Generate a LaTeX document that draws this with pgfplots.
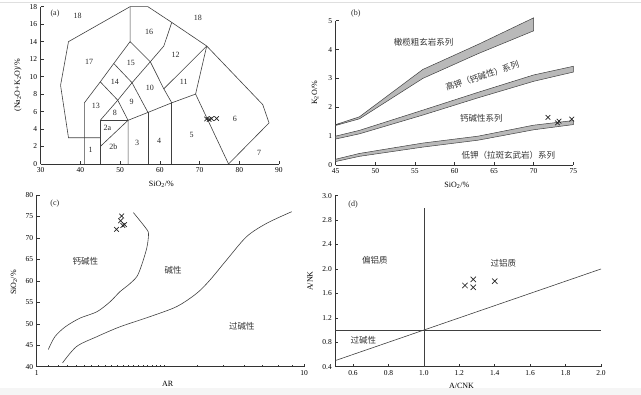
\documentclass[border=0pt]{standalone}
\usepackage{fontspec}
\setmainfont{Liberation Serif}
\newfontfamily\cjk{Noto Sans CJK SC}
\usepackage{pgfplots}
\pgfplotsset{compat=1.18}
\tikzset{
  cj/.style={font=\cjk\fontsize{8.5}{9}\selectfont, text=black!80},
  nm/.style={font=\fontsize{8}{9}\selectfont, text=black!85},
}
\pgfplotsset{
  base/.style={
    scale only axis,
    axis x line*=bottom, axis y line*=left,
    tick align=inside,
    major tick length=3pt, minor tick length=1.8pt,
    every tick/.style={black!80, line width=0.5pt},
    axis line style={black!80, line width=0.6pt},
    /pgf/number format/assume math mode=true,
    tick label style={font=\fontsize{7.5}{8}\selectfont},
    label style={font=\fontsize{8}{9}\selectfont},
    clip=false,
  },
  ln/.style={black!75, line width=0.6pt, no marks},
  band/.style={draw=black!75, fill=gray!55, line width=0.5pt, no marks},
  xm/.style={only marks, mark=x, mark size=#1, black!85, mark options={line width=0.7pt}},
}
\begin{document}
\begin{tikzpicture}
\useasboundingbox (0,0) rectangle (641pt,395pt);
\fill[gray!8] (0,0) rectangle (641pt,7pt);
\draw[gray!25, line width=0.6pt] (0,392.5pt) -- (641pt,392.5pt);

% ---------------- (a) TAS ----------------
\begin{axis}[base, at={(40.7pt,231pt)}, anchor=south west,
  width=238.3pt, height=157.3pt,
  xmin=30, xmax=90, ymin=0, ymax=18,
  xtick={30,40,...,90}, ytick={0,2,...,18},
  xlabel={SiO\textsubscript{2}/\%}, ylabel={(Na\textsubscript{2}O+K\textsubscript{2}O)/\%},
  xlabel style={at={(axis description cs:0.506,-0.127)}, anchor=center},
  ylabel style={at={(axis description cs:-0.095,0.5)}, anchor=center, rotate=0},
]
\addplot[ln] coordinates {(45,3) (37,3) (35,9) (37,14) (52.5,18) (57,18) (63,16.2) (71.8,13.5) (85.9,6.8) (87.5,4.7) (77.3,0)};
\addplot[ln] coordinates {(41,0) (41,7) (45,9.4) (48.4,11.5) (52.5,14) (52.5,18)};
\addplot[ln] coordinates {(45,0) (45,5) (52,5)};
\addplot[ln] coordinates {(45,2) (52,5)};
\addplot[ln] coordinates {(52,0) (52,5) (57,5.9) (63,7) (69,8) (77.3,0)};
\addplot[ln] coordinates {(57,0) (57,5.9)};
\addplot[ln] coordinates {(63,0) (63,7)};
\addplot[ln] coordinates {(45,5) (49.4,7.3) (53,9.3) (57.6,11.7) (61,13.5) (63,16.2)};
\addplot[ln] coordinates {(52,5) (49.4,7.3) (45,9.4)};
\addplot[ln] coordinates {(57,5.9) (53,9.3) (48.4,11.5)};
\addplot[ln] coordinates {(63,7) (61,8.6) (57.6,11.7) (52.5,14)};
\addplot[ln] coordinates {(61,8.6) (71.8,13.5)};
\addplot[ln] coordinates {(69,8) (71.8,13.5)};
\addplot[xm=3.2pt] coordinates {(71.8,5.15) (72.4,5.1) (73.0,5.2) (74.3,5.2)};
\node[nm] at (axis cs:33.6,17.2) {(a)};
\node[nm] at (axis cs:39.3,16.9) {18};
\node[nm] at (axis cs:69.6,16.7) {18};
\node[nm] at (axis cs:57.3,15.1) {16};
\node[nm] at (axis cs:42.2,11.7) {17};
\node[nm] at (axis cs:52.7,11.6) {15};
\node[nm] at (axis cs:64,12.5) {12};
\node[nm] at (axis cs:48.7,9.4) {14};
\node[nm] at (axis cs:57.5,8.7) {10};
\node[nm] at (axis cs:66,9.35) {11};
\node[nm] at (axis cs:43.9,6.7) {13};
\node[nm] at (axis cs:52.9,7.1) {9};
\node[nm] at (axis cs:48.7,5.9) {8};
\node[nm] at (axis cs:46.8,4.1) {2a};
\node[nm] at (axis cs:48.3,2.0) {2b};
\node[nm] at (axis cs:42.6,1.6) {1};
\node[nm] at (axis cs:54.3,2.4) {3};
\node[nm] at (axis cs:59.8,2.6) {4};
\node[nm] at (axis cs:68,3.35) {5};
\node[nm] at (axis cs:78.9,5.2) {6};
\node[nm] at (axis cs:85,1.3) {7};
\end{axis}

% ---------------- (b) K2O-SiO2 ----------------
\begin{axis}[base, at={(335.7pt,230pt)}, anchor=south west,
  width=237.6pt, height=144.3pt,
  xmin=45, xmax=75, ymin=0, ymax=5,
  xtick={45,50,...,75}, ytick={0,1,...,5},
  xlabel={SiO\textsubscript{2}/\%}, ylabel={K\textsubscript{2}O/\%},
  xlabel style={at={(axis description cs:0.51,-0.139)}, anchor=center},
  ylabel style={at={(axis description cs:-0.087,0.5)}, anchor=center, rotate=0},
]
\addplot[band] coordinates {(45,1.40) (48,1.67) (56,3.31) (63,4.18) (70,5.10) (70,4.65) (63,3.86) (56,3.00) (48,1.60) (45,1.37) (45,1.40)};
\addplot[band] coordinates {(45,1.00) (48,1.20) (56,1.90) (63,2.52) (70,3.12) (75,3.42) (75,3.22) (70,2.90) (63,2.33) (56,1.73) (48,1.08) (45,0.90) (45,1.00)};
\addplot[band] coordinates {(45,0.20) (48,0.40) (56,0.76) (63,1.00) (70,1.38) (75,1.54) (75,1.40) (70,1.22) (63,0.86) (56,0.62) (48,0.30) (45,0.12) (45,0.20)};
\addplot[xm=3.3pt] coordinates {(71.8,1.65) (73.0,1.46) (73.2,1.52) (74.8,1.59)};
\node[nm, anchor=west] at (axis cs:46.5,5.25) {(b)};
\node[cj] at (axis cs:56.1,4.24) {橄榄粗玄岩系列};
\node[cj, rotate=18] at (axis cs:63.5,3.08) {高钾（钙碱性）系列};
\node[cj] at (axis cs:63.4,1.62) {钙碱性系列};
\node[cj] at (axis cs:66.8,0.35) {低钾（拉斑玄武岩）系列};
\end{axis}

% ---------------- (c) AR ----------------
\begin{axis}[base, at={(36.7pt,28.3pt)}, anchor=south west,
  width=267.3pt, height=171.7pt,
  xmode=log, xmin=1, xmax=10, ymin=40, ymax=80,
  xtick={1,10}, xticklabels={1,10},
  minor xtick={1.1,1.2,1.3,1.4,1.5,1.6,1.7,1.8,1.9,2.0,2.1,2.2,2.3,2.4,2.5,2.6,2.7,2.8,2.9,3.0,4,5,6,7,8,9},
  ytick={40,45,...,80},
  xlabel={AR}, ylabel={SiO\textsubscript{2}/\%},
  xlabel style={at={(axis description cs:0.49,-0.1)}, anchor=center},
  ylabel style={at={(axis description cs:-0.085,0.49)}, anchor=center, rotate=0},
]
\addplot[ln, smooth] coordinates {(1.105,44.0) (1.17,47.0) (1.28,49.3) (1.45,51.3) (1.68,52.8) (1.88,55.1) (2.05,57.5) (2.20,59.0) (2.37,61.0) (2.47,63.7) (2.58,67.6) (2.62,70.7) (2.58,72.0) (2.30,75.9)};
\addplot[ln, smooth] coordinates {(1.25,40.9) (1.41,44.7) (1.68,47.0) (2.05,49.3) (2.65,51.65) (3.34,54.0) (3.97,57.1) (4.45,60.2) (5.14,64.9) (6.10,70.3) (7.25,73.4) (8.99,76.1)};
\addplot[xm=3.3pt] coordinates {(2.08,75.1) (2.06,74.0) (2.13,73.1) (2.10,72.9) (1.99,72.0)};
\node[nm] at (axis cs:1.17,77.9) {(c)};
\node[cj] at (axis cs:1.52,64.5) {钙碱性};
\node[cj] at (axis cs:3.24,62.4) {碱性};
\node[cj] at (axis cs:5.85,49.5) {过碱性};
\end{axis}

% ---------------- (d) A/NK - A/CNK ----------------
\begin{axis}[base, at={(335.3pt,28.3pt)}, anchor=south west,
  width=265.7pt, height=171pt,
  xmin=0.5, xmax=2.0, ymin=0.4, ymax=3.2,
  xtick={0.6,0.8,1.0,1.2,1.4,1.6,1.8,2.0},
  xticklabels={0.6,0.8,1.0,1.2,1.4,1.6,1.8,2.0},
  ytick={0.4,0.8,1.2,1.6,2.0,2.4,2.8,3.2},
  yticklabels={0.4,0.8,1.2,1.6,2.0,2.4,2.8,3.0},
  xlabel={A/CNK}, ylabel={A/NK},
  xlabel style={at={(axis description cs:0.475,-0.113)}, anchor=center},
  ylabel style={at={(axis description cs:-0.095,0.5)}, anchor=center, rotate=0},
]
\addplot[ln] coordinates {(1,0.4) (1,3.0)};
\addplot[ln] coordinates {(0.5,1) (2,1)};
\addplot[ln] coordinates {(0.5,0.5) (2,2)};
\addplot[xm=3.8pt] coordinates {(1.232,1.73) (1.279,1.83) (1.279,1.70) (1.40,1.80)};
\node[nm] at (axis cs:0.60,3.05) {(d)};
\node[cj] at (axis cs:0.724,2.15) {偏铝质};
\node[cj] at (axis cs:1.449,2.10) {过铝质};
\node[cj] at (axis cs:0.658,0.84) {过碱性};
\end{axis}
\end{tikzpicture}
\end{document}
